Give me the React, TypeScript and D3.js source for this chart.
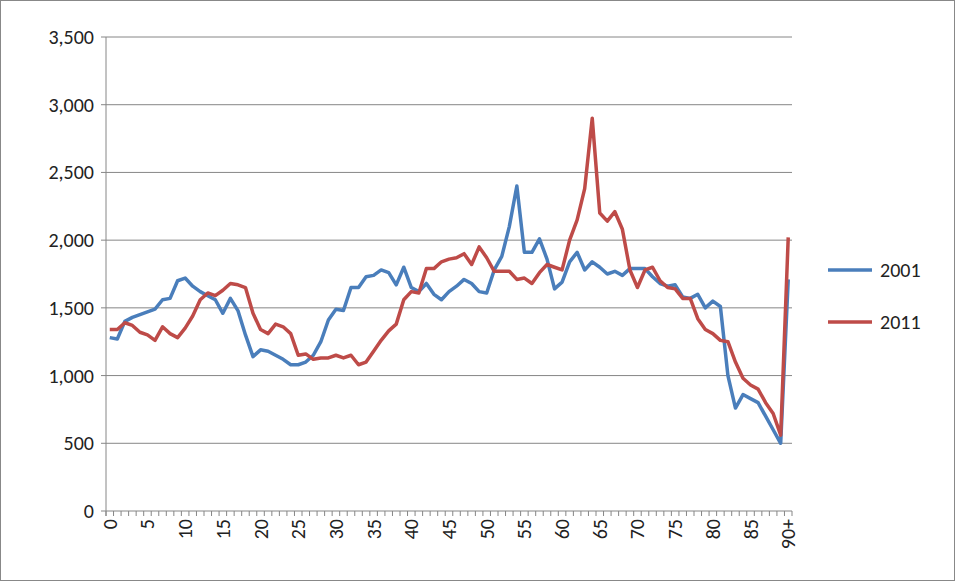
import React from "react";
import * as d3 from "d3";

// age categories 0..89 plus 90+
const ages: string[] = [...Array.from({ length: 90 }, (_, i) => String(i)), "90+"];

const pop2001: number[] = [
  1280, 1270, 1400, 1430, 1450, 1470, 1490, 1560, 1570, 1700,
  1720, 1660, 1620, 1590, 1560, 1460, 1570, 1480, 1300, 1140,
  1190, 1180, 1150, 1120, 1080, 1080, 1100, 1150, 1250, 1410,
  1490, 1480, 1650, 1650, 1730, 1740, 1780, 1760, 1670, 1800,
  1650, 1620, 1680, 1600, 1560, 1620, 1660, 1710, 1680, 1620,
  1610, 1780, 1880, 2100, 2400, 1910, 1910, 2010, 1860, 1640,
  1690, 1840, 1910, 1780, 1840, 1800, 1750, 1770, 1740, 1790,
  1790, 1790, 1730, 1680, 1660, 1670, 1580, 1570, 1600, 1500,
  1550, 1510, 1000, 760, 860, 830, 800, 700, 600, 500, 1710,
];

const pop2011: number[] = [
  1340, 1340, 1390, 1370, 1320, 1300, 1260, 1360, 1310, 1280,
  1350, 1440, 1560, 1610, 1590, 1630, 1680, 1670, 1650, 1460,
  1340, 1310, 1380, 1360, 1310, 1150, 1160, 1120, 1130, 1130,
  1150, 1130, 1150, 1080, 1100, 1180, 1260, 1330, 1380, 1560,
  1620, 1610, 1790, 1790, 1840, 1860, 1870, 1900, 1820, 1950,
  1870, 1770, 1770, 1770, 1710, 1720, 1680, 1760, 1820, 1800,
  1780, 2000, 2150, 2380, 2900, 2200, 2140, 2210, 2080, 1780,
  1650, 1780, 1800, 1700, 1650, 1640, 1570, 1570, 1420, 1340,
  1310, 1260, 1250, 1100, 980, 930, 900, 800, 720, 560, 2020,
];

const yTicks: number[] = [0, 500, 1000, 1500, 2000, 2500, 3000, 3500];

const series = [
  { name: "2001", values: pop2001, color: "#4a7ebb" },
  { name: "2011", values: pop2011, color: "#be4b48" },
];

export default function App() {
  const W = 955, H = 581;
  const left = 106, right = 792, top = 37, bottom = 511;
  const font = "Calibri, Carlito, 'Open Sans', sans-serif";
  const fs = 20;

  const x = d3.scaleBand<string>().domain(ages).range([left, right]);
  const y = d3.scaleLinear().domain([0, 3500]).range([bottom, top]);
  const line = d3
    .line<number>()
    .x((_, i) => (x(ages[i]) as number) + x.bandwidth() / 2)
    .y((d) => y(d));

  return (
    <svg width={W} height={H} style={{ position: "absolute", left: 0, top: 0 }}>
      <rect x={0.5} y={0.5} width={W - 1} height={H - 1} fill="white" stroke="#888" />
      {yTicks.map((t) => (
        <g key={t}>
          {t > 0 && <line x1={left} x2={right} y1={y(t)} y2={y(t)} stroke="#868686" />}
          <line x1={left - 5} x2={left} y1={y(t)} y2={y(t)} stroke="#868686" />
          <text x={left - 12} y={y(t)} dy="0.35em" textAnchor="end" fontSize={fs} fontFamily={font} fill="#222">
            {d3.format(",")(t)}
          </text>
        </g>
      ))}
      <line x1={left} x2={left} y1={top} y2={bottom + 5} stroke="#868686" />
      <line x1={left} x2={right} y1={bottom} y2={bottom} stroke="#868686" />
      {ages.map((a) => (
        <line key={a} x1={x(a) as number} x2={x(a) as number} y1={bottom} y2={bottom + 5} stroke="#868686" />
      ))}
      <line x1={right} x2={right} y1={bottom} y2={bottom + 5} stroke="#868686" />
      {ages.map((a, i) =>
        i % 5 === 0 ? (
          <text
            key={a}
            transform={`translate(${(x(a) as number) + x.bandwidth() / 2},${bottom + 8}) rotate(-90)`}
            dy="0.35em"
            textAnchor="end"
            fontSize={fs}
            fontFamily={font}
            fill="#222"
          >
            {a}
          </text>
        ) : null
      )}
      {series.map((s) => (
        <path key={s.name} d={line(s.values) || ""} fill="none" stroke={s.color} strokeWidth={3.5} strokeLinejoin="round" />
      ))}
      {series.map((s, i) => (
        <g key={s.name} transform={`translate(828,${270 + i * 52})`}>
          <line x1={0} x2={44} y1={0} y2={0} stroke={s.color} strokeWidth={3.5} />
          <text x={52} y={0} dy="0.35em" fontSize={fs} fontFamily={font} fill="#222">
            {s.name}
          </text>
        </g>
      ))}
    </svg>
  );
}
